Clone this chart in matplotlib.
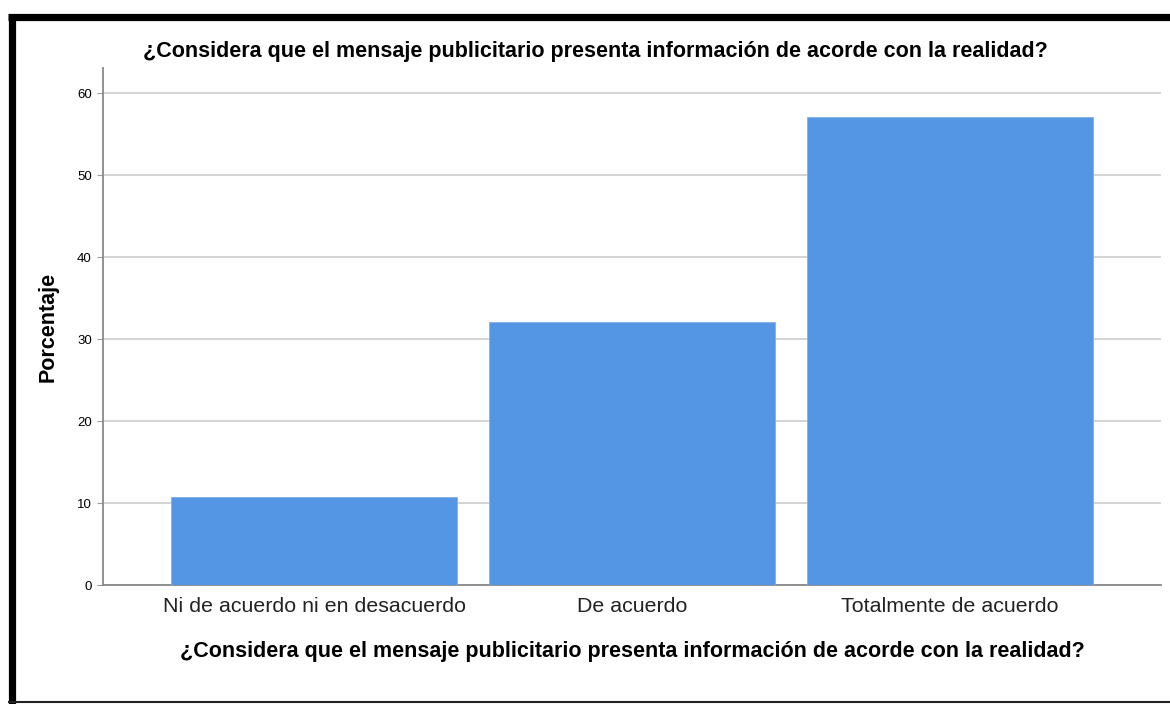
import matplotlib
matplotlib.use("Agg")
import matplotlib.pyplot as plt
from matplotlib.lines import Line2D

categories = ["Ni de acuerdo ni en desacuerdo", "De acuerdo", "Totalmente de acuerdo"]
values = [10.7, 32.1, 57.1]
yticks = [0, 10, 20, 30, 40, 50, 60]
title = "¿Considera que el mensaje publicitario presenta información de acorde con la realidad?"

plt.rcParams['font.family'] = ['Liberation Sans', 'DejaVu Sans']

W, H = 1170, 704
fig = plt.figure(figsize=(W / 100, H / 100), dpi=100)
ax = fig.add_axes([103 / W, 1 - 585 / H, (1161 - 103) / W, (585 - 68) / H])

x = list(range(len(categories)))
ax.bar(x, values, width=0.9, color="#5596E4", edgecolor="#7FB0EC", linewidth=0.6, zorder=3)
ax.set_xlim(-0.665, 2.665)
ax.set_ylim(0, 63.05)
ax.set_yticks(yticks)
ax.set_yticklabels([str(t) for t in yticks], fontsize=9.5)
ax.set_xticks(x)
ax.set_xticklabels(categories, fontsize=15.4, color="#222222")
ax.yaxis.grid(True, color="#D0D0D0", linewidth=1.3, zorder=0)
ax.xaxis.grid(False)
ax.tick_params(axis='x', length=0, pad=9)
ax.tick_params(axis='y', length=4, color="#999999", pad=4)
for s in ["top", "right"]:
    ax.spines[s].set_visible(False)
for s in ["left", "bottom"]:
    ax.spines[s].set_color("#888888")
    ax.spines[s].set_linewidth(1.3)

ax.set_ylabel("Porcentaje", fontsize=15.5, fontweight="bold", labelpad=13)
ax.set_xlabel(title, fontsize=15.5, fontweight="bold", labelpad=18)
fig.text(595 / W, 1 - 52 / H, title, fontsize=15.5, fontweight="bold", ha="center", va="center")

# black frame
fig.add_artist(Line2D([8 / W, 1.0], [1 - 16.5 / H] * 2, color="black", linewidth=5.2,
                      solid_capstyle="butt", transform=fig.transFigure))
fig.add_artist(Line2D([11.5 / W] * 2, [1 - 16.5 / H, 0.0], color="black", linewidth=5.2,
                      solid_capstyle="butt", transform=fig.transFigure))
fig.add_artist(Line2D([8 / W, 1.0], [1 - 702 / H] * 2, color="#222222", linewidth=1.5,
                      solid_capstyle="butt", transform=fig.transFigure))

fig.savefig("out.png", dpi=100)
